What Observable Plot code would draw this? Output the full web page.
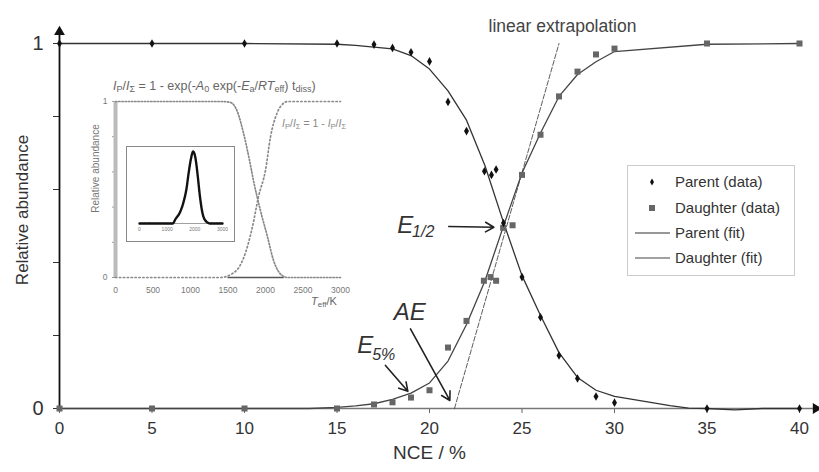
<!DOCTYPE html>
<html><head><meta charset="utf-8">
<script src="https://cdn.jsdelivr.net/npm/d3@7"></script>
<script src="https://cdn.jsdelivr.net/npm/@observablehq/plot@0.6"></script>
<style>
body{margin:0;background:#fff;}
#wrap{position:relative;width:819px;height:472px;font-family:"Liberation Sans",Arial,sans-serif;overflow:hidden;}
#wrap > svg, #wrap > div{position:absolute;}
.f{position:absolute;white-space:nowrap;color:#666;font-family:"Liberation Sans",Arial,sans-serif;}
.f sub{font-size:0.72em;vertical-align:-0.25em;}
</style></head><body><div id="wrap"></div>
<script>
// ---------- main chart data ----------
const parentX = [0,5,10,15,17,18,19,20,21,22,22.97,23.35,23.6,24,25,26,27,28,29,30,35,40];
const parentY = [1,1,1,1,0.997,0.988,0.976,0.951,0.84,0.76,0.65,0.64,0.655,0.508,0.36,0.25,0.145,0.082,0.033,0.016,0,0];
const daughterX = [0,5,10,15,17,18,19,20,21,22,22.94,23.3,23.6,23.98,24.49,25,26,27,28,29,30,35,40];
const daughterY = [0,0,0,0,0.011,0.017,0.03,0.05,0.167,0.24,0.35,0.36,0.35,0.495,0.502,0.64,0.75,0.855,0.923,0.97,0.986,1,1];
const parentFitX = [0,5,10,15,16,17,18,19,20,21,22,23,24,25,26,27,28,29,30,33,34,35,36.5,38,40];
const parentFitY = [1,1,1,0.998,0.995,0.99,0.985,0.967,0.93,0.87,0.79,0.665,0.51,0.364,0.255,0.153,0.085,0.05,0.033,0.008,0.001,0,-0.004,0,0];
const daughterFitX = [0,5,10,13.5,15,16,17,18,19,20,21,22,23,24,25,26,27,28,29,30,35,40];
const daughterFitY = [0,0,0,0,0.003,0.007,0.013,0.025,0.042,0.07,0.13,0.23,0.35,0.5,0.645,0.755,0.855,0.915,0.95,0.978,0.998,1];
const extrapX = [21.35, 27.0];
const extrapY = [0, 1.0];
const xTicks = [0,5,10,15,20,25,30,35,40];
const yTicks = [0,0.2,0.4,0.6,0.8,1];
const yTickLabels = ["0","","","","","1"];
const axisEndX = 41.05;
const axisEndY = 1.04;
// annotations (data coordinates)
const annText = ["E","AE","E"];
const annX = [18.25,18.07,16.09];
const annY = [0.501,0.264,0.173];
const subText = ["1/2","5%"];
const subX = [19.06,16.9];
const subY = [0.4836,0.148];
const arrX1 = [21.04,18.97,17.62];
const arrY1 = [0.4986,0.218,0.118];
const arrX2 = [23.48,21.10,18.83];
const arrY2 = [0.4967,0.022,0.047];
const extrapLabel = "linear extrapolation";
const extrapLabelX = 27.19;
const extrapLabelY = 1.047;
const legendLabels = ["Parent (data)","Daughter (data)","Parent (fit)","Daughter (fit)"];

// ---------- inset data ----------
const insetParentT = [0,1400,1530,1627,1707,1780,1840,1933,2027,2107,2227,2300,3000];
const insetParentF = [1,1,0.995,0.94,0.82,0.68,0.55,0.38,0.23,0.097,0.01,0,0];
const insetDaughterT = [0,1400,1550,1650,1707,1827,1907,2000,2067,2160,2240,2293,3000];
const insetDaughterF = [0,0,0.02,0.06,0.11,0.29,0.46,0.61,0.8,0.94,0.99,1,1];
const insetBarT = [1500,2250];
const insetXTicks = [0,500,1000,1500,2000,2500,3000];
const insetYTicks = [0,0.2,0.4,0.6,0.8,1];
const insetYTickLabels = ["0","","","","","1"];
const innerT = [0,1200,1300,1480,1600,1697,1780,1866,1938,2022,2105,2177,2263,2383,2563,3000];
const innerF = [0,0,0.06,0.17,0.31,0.48,0.71,0.91,1,0.91,0.66,0.4,0.17,0.04,0,0];
const innerTicks = [0,1000,2000,3000];

const font = "Liberation Sans, Arial, sans-serif";
const zip = (xs, ys) => xs.map((x, i) => ({x, y: ys[i]}));
const parent = zip(parentX, parentY);
const daughter = zip(daughterX, daughterY);
const parentFit = zip(parentFitX, parentFitY);
const daughterFit = zip(daughterFitX, daughterFitY);
const extrap = zip(extrapX, extrapY);
const ann = annText.map((t, i) => ({t, x: annX[i], y: annY[i]}));
const subs = subText.map((t, i) => ({t, x: subX[i], y: subY[i]}));
const arrows = arrX1.map((x1, i) => ({x1, y1: arrY1[i], x2: arrX2[i], y2: arrY2[i]}));

const main = Plot.plot({
  width: 819, height: 472,
  marginLeft: 59, marginRight: 20, marginTop: 43, marginBottom: 64,
  x: {domain: [0, 40]},
  y: {domain: [0, 1]},
  style: {fontFamily: font, background: "transparent", color: "#333", overflow: "visible"},
  marks: [
    Plot.axisX({ticks: xTicks, tickSize: 5, tickPadding: 8, fontSize: 17, stroke: "#666", label: null}),
    Plot.axisY({ticks: yTicks, tickSize: 6, tickPadding: 10, fontSize: 20, stroke: "#333", tickFormat: d => yTickLabels[yTicks.indexOf(d)], label: null}),
    Plot.ruleY([0], {x1: 0, x2: axisEndX, stroke: "#777", strokeWidth: 1.5}),
    Plot.ruleX([0], {y1: 0, y2: axisEndY, stroke: "#111", strokeWidth: 1.8}),
    Plot.dot([{x: axisEndX, y: 0}], {x: "x", y: "y", symbol: "triangle", rotate: 90, r: 4, fill: "#111", dx: -3}),
    Plot.dot([{x: 0, y: axisEndY}], {x: "x", y: "y", symbol: "triangle", r: 4, fill: "#111", dy: 3}),
    Plot.line(extrap, {x: "x", y: "y", stroke: "#333", strokeWidth: 0.8, strokeDasharray: "5,2"}),
    Plot.line(parentFit, {x: "x", y: "y", stroke: "#333", strokeWidth: 1.3}),
    Plot.line(daughterFit, {x: "x", y: "y", stroke: "#444", strokeWidth: 1.3}),
    Plot.dot(daughter, {x: "x", y: "y", symbol: "square", r: 3.4, fill: "#666"}),
    Plot.dot(parent, {x: "x", y: "y", symbol: "diamond", r: 2.6, fill: "#111"}),
    Plot.arrow(arrows, {x1: "x1", y1: "y1", x2: "x2", y2: "y2", stroke: "#222", strokeWidth: 1.6, headLength: 9}),
    Plot.text(ann, {x: "x", y: "y", text: "t", textAnchor: "start", lineAnchor: "middle", fontSize: 24, fontStyle: "italic", fill: "#333"}),
    Plot.text(subs, {x: "x", y: "y", text: "t", textAnchor: "start", lineAnchor: "middle", fontSize: 16, fontStyle: "italic", fill: "#333"}),
    Plot.text([extrapLabel], {x: extrapLabelX, y: extrapLabelY, text: d => d, fontSize: 17.5, fill: "#444", lineAnchor: "middle"}),
    Plot.text(["NCE / %"], {frameAnchor: "bottom", dy: 50, fontSize: 19, fill: "#333"}),
    Plot.text(["Relative abundance"], {frameAnchor: "left", textAnchor: "middle", rotate: -90, dx: -37, dy: -16, fontSize: 17, fill: "#333"})
  ]
});
main.style.left = "0px"; main.style.top = "0px";
const wrap = document.getElementById("wrap");
wrap.appendChild(main);

// ---------- inset ----------
const inset = Plot.plot({
  width: 290, height: 245,
  marginLeft: 45, marginRight: 20, marginTop: 31, marginBottom: 38,
  x: {domain: [0, 3000]},
  y: {domain: [0, 1]},
  style: {fontFamily: font, background: "transparent", color: "#777", overflow: "visible"},
  marks: [
    Plot.axisX({ticks: insetXTicks, tickSize: 0, tickPadding: 9, fontSize: 8.5, tickFormat: d => String(d), label: null}),
    Plot.axisY({ticks: insetYTicks, tickSize: 3, tickPadding: 5, fontSize: 8.5, stroke: "#999", tickFormat: d => insetYTickLabels[insetYTicks.indexOf(d)], label: null}),
    Plot.ruleX([0], {stroke: "#bbb", strokeWidth: 4}),
    Plot.ruleY([0], {x1: insetBarT[0], x2: insetBarT[1], stroke: "#555", strokeWidth: 1.3}),
    Plot.line(zip(insetParentT, insetParentF), {x: "x", y: "y", stroke: "#888", strokeWidth: 1.7, strokeDasharray: "1.3,1.9", curve: "monotone-x"}),
    Plot.line(zip(insetDaughterT, insetDaughterF), {x: "x", y: "y", stroke: "#888", strokeWidth: 1.7, strokeDasharray: "1.3,2.6", curve: "monotone-x"}),
    Plot.text(["Relative abundance"], {frameAnchor: "left", textAnchor: "middle", rotate: -90, dx: -20, dy: -21, fontSize: 10, fill: "#777"})
  ]
});
inset.style.left = "70px"; inset.style.top = "70px";
wrap.appendChild(inset);

// ---------- inner inset ----------
const inner = Plot.plot({
  width: 107, height: 94,
  marginLeft: 12, marginRight: 12, marginTop: 4, marginBottom: 18,
  x: {domain: [0, 3000]},
  y: {domain: [0, 1], axis: null},
  style: {fontFamily: font, background: "#fff", color: "#777", overflow: "visible"},
  marks: [
    Plot.axisX({ticks: innerTicks, tickSize: 0, tickPadding: 4, fontSize: 5, tickFormat: d => String(d), label: null}),
    Plot.ruleY([0], {x1: 0, x2: 3000, stroke: "#888", strokeWidth: 0.8}),
    Plot.line(zip(innerT, innerF), {x: "x", y: "y", stroke: "#111", strokeWidth: 2.4, strokeDasharray: "2,0.6", curve: "monotone-x"})
  ]
});
inner.style.left = "127px"; inner.style.top = "147px"; inner.style.outline = "1px solid #888";
wrap.appendChild(inner);

// ---------- formula texts ----------
function addHTML(html, left, top, size, color) {
  const d = document.createElement("div");
  d.className = "f"; d.innerHTML = html;
  d.style.left = left + "px"; d.style.top = top + "px";
  d.style.fontSize = size + "px"; d.style.color = color;
  wrap.appendChild(d);
  return d;
}
addHTML('<i>I</i><sub>P</sub>/<i>I</i><sub>Σ</sub> = 1 - exp(-<i>A</i><sub>0</sub> exp(-<i>E</i><sub>a</sub>/<i>RT</i><sub>eff</sub>) t<sub>diss</sub>)', 113, 79, 12.5, "#666");
addHTML('<i>I</i><sub>P</sub>/<i>I</i><sub>Σ</sub> = 1 - <i>I</i><sub>P</sub>/<i>I</i><sub>Σ</sub>', 282, 117, 10.5, "#888");
addHTML('<i>T</i><sub>eff</sub>/K', 311, 295, 11, "#666");

// ---------- legend ----------
const lg = d3.create("svg").attr("width", 168).attr("height", 111)
  .style("left", "627px").style("top", "165px").style("position", "absolute");
lg.append("rect").attr("x", 0.5).attr("y", 0.5).attr("width", 167).attr("height", 110)
  .attr("fill", "#fff").attr("stroke", "#ccc");
const rowsY = [17, 43, 68, 93];
lg.append("path").attr("d", d3.symbol(d3.symbolDiamond, 14)()).attr("transform", `translate(25,${rowsY[0]})`).attr("fill", "#111");
lg.append("rect").attr("x", 22).attr("y", rowsY[1] - 3).attr("width", 6).attr("height", 6).attr("fill", "#666");
lg.append("line").attr("x1", 8).attr("x2", 43).attr("y1", rowsY[2]).attr("y2", rowsY[2]).attr("stroke", "#333").attr("stroke-width", 1.2);
lg.append("line").attr("x1", 8).attr("x2", 43).attr("y1", rowsY[3]).attr("y2", rowsY[3]).attr("stroke", "#444").attr("stroke-width", 1.2);
legendLabels.forEach((t, i) => {
  lg.append("text").attr("x", 48).attr("y", rowsY[i]).attr("dy", "0.35em")
    .attr("font-family", font).attr("font-size", 15).attr("fill", "#333").text(t);
});
wrap.appendChild(lg.node());
</script>
</body></html>
